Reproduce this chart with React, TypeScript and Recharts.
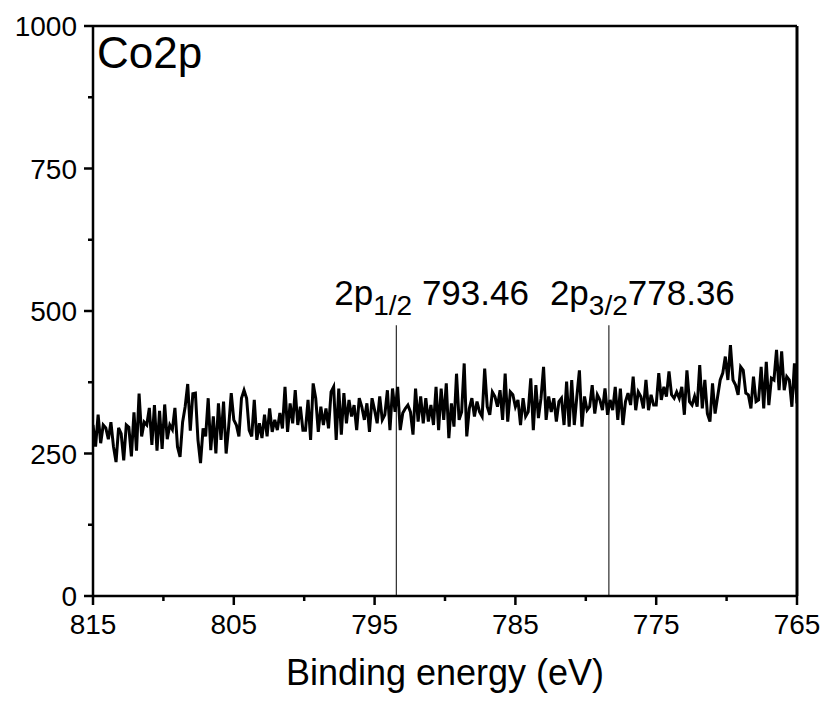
import { LineChart, Line, XAxis, YAxis, ReferenceLine } from 'recharts'

// Co2p XPS intensity, read left to right (815 eV -> 765 eV)
const intensity = [
  300, 262, 318, 268, 300, 295, 275, 305, 262, 235, 295, 285, 238, 300, 296, 245, 322, 255, 355, 280,
  305, 300, 330, 265, 335, 255, 325, 258, 336, 275, 300, 292, 330, 262, 244, 305, 332, 372, 290, 355,
  356, 274, 233, 294, 280, 347, 256, 315, 250, 338, 274, 341, 250, 297, 356, 309, 300, 280, 347, 361,
  347, 291, 280, 344, 274, 303, 277, 318, 280, 329, 288, 309, 291, 321, 294, 367, 288, 338, 303, 361,
  300, 332, 291,
  291, 344, 274, 373, 347, 288, 332, 300, 329, 294, 358, 367, 274, 364, 283, 356, 303, 344, 315, 335,
  291, 347, 332, 309, 338, 288, 347, 326, 303, 350, 309, 318, 361, 291, 364, 323, 367, 291, 321, 329,
  335, 323, 283, 364, 306, 350, 303,
  347, 306, 335, 300, 367, 291, 364, 309, 373, 277, 338, 297, 390, 309, 323, 408, 280, 329, 347, 315,
  341, 323, 315, 399, 332, 318, 358, 350, 332, 361, 309, 390, 306, 358, 353, 332, 344, 300, 347, 315,
  323, 382, 291, 370, 312, 347, 402, 309, 350, 323, 347, 306, 341,
  347, 300, 376, 297, 379, 300, 350, 396, 297, 350, 326, 332, 370, 320, 353, 344, 326, 364, 318, 344,
  326, 367, 309, 364, 300, 341, 356, 335, 385, 326, 358, 350, 329, 379, 326, 353, 335, 335, 391, 344,
  367, 350, 394, 353, 347,
  358, 347, 367, 318, 396, 341, 335, 350, 332, 405, 329, 379, 320, 306, 373, 320, 350, 379, 391, 420,
  379, 440, 379, 370, 353, 402, 396, 356, 353, 329, 385, 341, 344, 402, 329, 411, 335, 382, 379, 432,
  361, 429, 361, 385, 379, 332, 408, 338,
]

const eStart = 815
const eEnd = 765
const xTicks = [815, 810, 805, 800, 795, 790, 785, 780, 775, 770, 765]
const yTicks = [0, 125, 250, 375, 500, 625, 750, 875, 1000]
const peaks = [
  { e: 793.46, sub: '1/2', label: ' 793.46', dx: -62 },
  { e: 778.36, sub: '3/2', label: '778.36', dx: -59 },
]
const peakTop = 475

const data = intensity.map((v, i) => ({
  e: eStart - (i * (eStart - eEnd)) / (intensity.length - 1),
  y: v,
}))

const font = 'Liberation Sans, Arial, sans-serif'

const XTick = (props: any) => {
  const { x, y, payload } = props
  const major = (payload.value - 5) % 10 === 0
  return (
    <g>
      <line x1={x} x2={x} y1={y} y2={y + (major ? 9 : 5)} stroke="#000" strokeWidth={2.5} />
      {major && (
        <text x={x} y={y + 38} textAnchor="middle" fontSize={28} fontFamily={font} fill="#000">
          {payload.value}
        </text>
      )}
    </g>
  )
}

const YTick = (props: any) => {
  const { x, y, payload } = props
  const major = payload.value % 250 === 0
  return (
    <g>
      <line x1={x} x2={x - (major ? 9 : 5)} y1={y} y2={y} stroke="#000" strokeWidth={2.5} />
      {major && (
        <text x={x - 16} y={y + 10} textAnchor="end" fontSize={28} fontFamily={font} fill="#000">
          {payload.value}
        </text>
      )}
    </g>
  )
}

export default function App() {
  return (
    <div style={{ position: 'absolute', left: 0, top: 0, background: '#fff' }}>
      <LineChart width={825} height={702} data={data} margin={{ top: 26, right: 28, left: 33, bottom: 0 }}>
        <XAxis
          type="number"
          dataKey="e"
          domain={[eEnd, eStart]}
          reversed
          allowDataOverflow
          ticks={xTicks}
          interval={0}
          tick={<XTick />}
          tickLine={false}
          tickSize={0}
          tickMargin={0}
          height={106}
          axisLine={{ stroke: '#000', strokeWidth: 2.5 }}
          label={(p: any) => (
            <text
              x={p.viewBox.x + p.viewBox.width / 2}
              y={p.viewBox.y + 89}
              textAnchor="middle"
              fontSize={36}
              fontFamily={font}
              fill="#000"
            >
              Binding energy (eV)
            </text>
          )}
        />
        <YAxis
          type="number"
          domain={[0, 1000]}
          ticks={yTicks}
          interval={0}
          tick={<YTick />}
          tickLine={false}
          tickSize={0}
          tickMargin={0}
          width={60}
          axisLine={{ stroke: '#000', strokeWidth: 2.5 }}
        />
        <ReferenceLine
          y={1000}
          stroke="#000"
          strokeWidth={2.5}
          label={(p: any) => (
            <text x={p.viewBox.x + 4} y={p.viewBox.y + 42} fontSize={44} fontFamily={font} fill="#000">
              Co2p
            </text>
          )}
        />
        <ReferenceLine x={eEnd} stroke="#000" strokeWidth={3} />
        {peaks.map((pk) => (
          <ReferenceLine
            key={pk.e}
            segment={[
              { x: pk.e, y: 0 },
              { x: pk.e, y: peakTop },
            ]}
            stroke="#000"
            strokeWidth={1}
            label={(p: any) => (
              <text x={p.viewBox.x + pk.dx} y={p.viewBox.y - 20} fontSize={35} fontFamily={font} fill="#000">
                2p
                <tspan fontSize={28} dy={10}>
                  {pk.sub}
                </tspan>
                <tspan dy={-10}>{pk.label}</tspan>
              </text>
            )}
          />
        ))}
        <Line
          type="linear"
          dataKey="y"
          stroke="#000"
          strokeWidth={3}
          dot={false}
          isAnimationActive={false}
        />
      </LineChart>
    </div>
  )
}
